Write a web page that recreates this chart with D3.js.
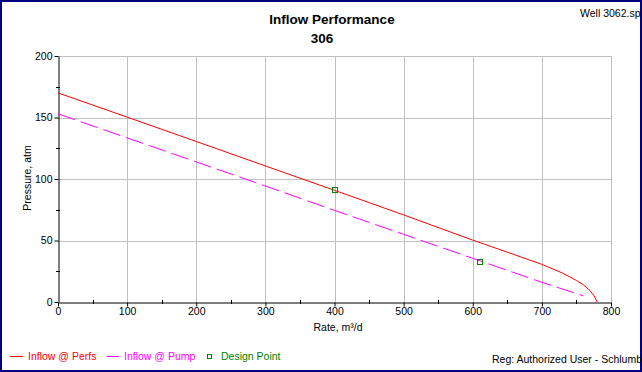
<!DOCTYPE html>
<html>
<head>
<meta charset="utf-8">
<script src="https://cdn.jsdelivr.net/npm/d3@7"></script>
<style>
  body { margin: 0; }
  text { font-family: "Liberation Sans", Arial, sans-serif; }
</style>
</head>
<body>
<div id="root"></div>
<script>
const W = 642, H = 372;
const fs = "10.5px";

// inflow @ perfs
const perfsRate = [0, 100, 200, 300, 400, 500, 600, 650, 700, 730, 750, 760, 770, 775, 780];
const perfsPres = [170, 150.3, 130.5, 110.6, 90.8, 70.8, 50.3, 40.5, 30.6, 23.5, 17.5, 14, 9, 5.5, 0];

// inflow @ pump
const pumpRate = [0, 100, 200, 300, 400, 500, 600, 700, 760];
const pumpPres = [153, 133.4, 113.9, 94.3, 74.5, 55, 35.5, 16, 5];

// design points
const designRate = [400, 610];
const designPres = [91, 32.5];

const xTicks = [0, 100, 200, 300, 400, 500, 600, 700, 800];
const yTicks = [0, 50, 100, 150, 200];

const x = d3.scaleLinear().domain([0, 800]).range([58, 611]);
const y = d3.scaleLinear().domain([0, 200]).range([302, 56]);

const svg = d3.select("#root").append("svg")
    .attr("width", W).attr("height", H);

// frame
svg.append("rect").attr("width", W).attr("height", H).attr("fill", "#000080");
svg.append("rect").attr("x", 2).attr("y", 2).attr("width", 638).attr("height", 368).attr("fill", "#fff");

// titles
svg.append("text").attr("x", 332).attr("y", 24).attr("text-anchor", "middle")
    .style("font-size", "13.5px").style("font-weight", "bold").text("Inflow Performance");
svg.append("text").attr("x", 322).attr("y", 43).attr("text-anchor", "middle")
    .style("font-size", "13.5px").style("font-weight", "bold").text("306");
svg.append("text").attr("x", 580).attr("y", 17).style("font-size", fs).text("Well 3062.sp");

// grid
const grid = svg.append("g").attr("stroke", "#c0c0c0").attr("stroke-width", 1);
grid.selectAll(".gx").data(xTicks.slice(1)).enter().append("line")
    .attr("x1", d => Math.round(x(d)) + 0.5).attr("x2", d => Math.round(x(d)) + 0.5)
    .attr("y1", y(200)).attr("y2", y(0));
grid.selectAll(".gy").data(yTicks.slice(1)).enter().append("line")
    .attr("x1", x(0)).attr("x2", x(800))
    .attr("y1", d => Math.round(y(d)) + 0.5).attr("y2", d => Math.round(y(d)) + 0.5);

// axes
const xAxis = svg.append("g").attr("transform", "translate(0," + (y(0) + 0.5) + ")")
    .call(d3.axisBottom(x).tickValues(xTicks).tickSize(4).tickSizeOuter(0));
const yAxis = svg.append("g").attr("transform", "translate(" + (x(0) + 0.5) + ",0)")
    .call(d3.axisLeft(y).tickValues(yTicks).tickSize(4).tickSizeOuter(0));
[xAxis, yAxis].forEach(a => {
    a.selectAll("text").style("font-size", fs).style("font-family", "Liberation Sans, Arial, sans-serif").attr("fill", "#000");
    a.selectAll("line, path").attr("stroke", "#000");
});
xAxis.selectAll(".tick text").attr("dy", "0.71em").attr("y", 5);
yAxis.selectAll(".tick text").attr("x", -6);

// minor ticks
svg.append("g").attr("stroke", "#000").selectAll("line")
    .data(d3.range(50, 800, 100)).enter().append("line")
    .attr("x1", d => Math.round(x(d)) + 0.5).attr("x2", d => Math.round(x(d)) + 0.5)
    .attr("y1", y(0) - 2).attr("y2", y(0) + 2);
svg.append("g").attr("stroke", "#000").selectAll("line")
    .data(d3.range(25, 200, 50)).enter().append("line")
    .attr("x1", x(0) - 2).attr("x2", x(0) + 2)
    .attr("y1", d => Math.round(y(d)) + 0.5).attr("y2", d => Math.round(y(d)) + 0.5);

// axis titles
svg.append("text").attr("x", 338).attr("y", 331).attr("text-anchor", "middle")
    .style("font-size", fs).text("Rate, m³/d");
svg.append("text").attr("transform", "translate(31,178)rotate(-90)").attr("text-anchor", "middle")
    .style("font-size", fs).text("Pressure, atm");

// curves
const line = d3.line().x(d => x(d[0])).y(d => y(d[1]));
svg.append("path").datum(d3.zip(perfsRate, perfsPres))
    .attr("d", line).attr("fill", "none").attr("stroke", "#ff0000").attr("stroke-width", 1);
svg.append("path").datum(d3.zip(pumpRate, pumpPres))
    .attr("d", line).attr("fill", "none").attr("stroke", "#ff00ff").attr("stroke-width", 1)
    .attr("stroke-dasharray", "18,6");

svg.selectAll(".dp").data(d3.zip(designRate, designPres)).enter().append("rect")
    .attr("x", d => Math.round(x(d[0])) - 2.5).attr("y", d => Math.round(y(d[1])) - 2.5)
    .attr("width", 5).attr("height", 5)
    .attr("fill", "none").attr("stroke", "#008000").attr("stroke-width", 1);

// legend
const leg = svg.append("g");
leg.append("line").attr("x1", 10).attr("x2", 23).attr("y1", 356.5).attr("y2", 356.5).attr("stroke", "#ff0000");
leg.append("text").attr("x", 28).attr("y", 360).style("font-size", fs).attr("fill", "#ff0000").text("Inflow @ Perfs");
leg.append("line").attr("x1", 107).attr("x2", 119).attr("y1", 356.5).attr("y2", 356.5).attr("stroke", "#ff00ff");
leg.append("text").attr("x", 124).attr("y", 360).style("font-size", fs).attr("fill", "#ff00ff").text("Inflow @ Pump");
leg.append("rect").attr("x", 207.5).attr("y", 354.5).attr("width", 4).attr("height", 4)
    .attr("fill", "none").attr("stroke", "#008000");
leg.append("text").attr("x", 221).attr("y", 360).style("font-size", fs).attr("fill", "#008000").text("Design Point");

svg.append("text").attr("x", 492).attr("y", 363).style("font-size", fs).text("Reg: Authorized User - Schlumb");
</script>
</body>
</html>
